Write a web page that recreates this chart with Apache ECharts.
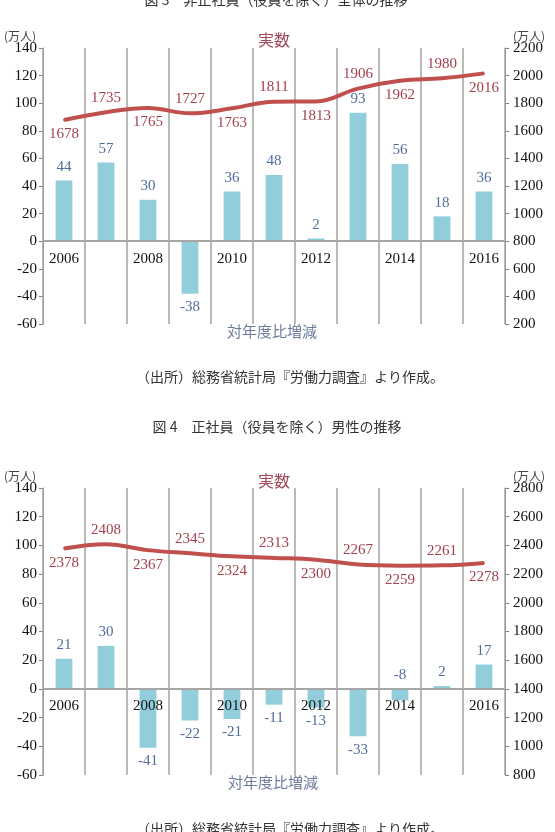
<!DOCTYPE html>
<html>
<head>
<meta charset="utf-8">
<script src="https://cdn.jsdelivr.net/npm/echarts@6/dist/echarts.min.js"></script>
<style>
html,body{margin:0;padding:0;background:#fff;}
#c{width:555px;height:832px;}
</style>
</head>
<body>
<div id="c"></div>
<script>
const years = ['2006','2007','2008','2009','2010','2011','2012','2013','2014','2015','2016'];
// 図3 非正社員
const fig3Change = [44, 57, 30, -38, 36, 48, 2, 93, 56, 18, 36];
const fig3Total = [1678, 1735, 1765, 1727, 1763, 1811, 1813, 1906, 1962, 1980, 2016];
// 図4 正社員 男性
const fig4Change = [21, 30, -41, -22, -21, -11, -13, -33, -8, 2, 17];
const fig4Total = [2378, 2408, 2367, 2345, 2324, 2313, 2300, 2267, 2259, 2261, 2278];
// axis ranges
const leftMin = -60, leftMax = 140, leftStep = 20;
const fig3RightMin = 200, fig3RightMax = 2200;
const fig4RightMin = 800, fig4RightMax = 2800;
const rightStep = 200;

const NUM_FONT = 'Liberation Serif';
const CJK_FONT = '"Noto Sans CJK JP"';
const BAR_COLOR = '#92CDDC';
const BAR_LABEL = '#4F6D9E';
const LINE_COLOR = '#C0504D';
const LINE_LABEL = '#A3404C';

const grids = [
  {left: 43, right: 50, top: 48, height: 276},
  {left: 43, right: 50, top: 488, height: 287}
];

const chart = echarts.init(document.getElementById('c'), null, {renderer: 'canvas'});

function xAxisFor(g) {
  // place the category axis on the zero line of the left value axis
  const zeroFromBottom = grids[g].height * (0 - leftMin) / (leftMax - leftMin);
  return {
    gridIndex: g, type: 'category', data: years, z: 3,
    position: 'bottom', offset: -zeroFromBottom,
    axisLine: {show: true, onZero: false, lineStyle: {color: '#A6A6A6', width: 2}},
    axisTick: {show: false},
    axisLabel: {interval: 1, margin: 10, fontFamily: NUM_FONT, fontSize: 15, color: '#111'},
    splitLine: {show: true, interval: 0, lineStyle: {color: '#A3A3A3', width: 1.5}}
  };
}
function leftAxis(g) {
  return {
    gridIndex: g, type: 'value', position: 'left', min: leftMin, max: leftMax, interval: leftStep,
    axisLine: {show: true, lineStyle: {color: '#808080', width: 1}},
    axisTick: {show: true, length: 4, lineStyle: {color: '#808080'}},
    axisLabel: {margin: 6, fontFamily: NUM_FONT, fontSize: 15, color: '#111', formatter: v => String(v)},
    splitLine: {show: false}
  };
}
function rightAxis(g, mn, mx) {
  return {
    gridIndex: g, type: 'value', position: 'right', min: mn, max: mx, interval: rightStep,
    axisLine: {show: true, lineStyle: {color: '#808080', width: 1}},
    axisTick: {show: true, length: 4, lineStyle: {color: '#808080'}},
    axisLabel: {margin: 8, fontFamily: NUM_FONT, fontSize: 15, color: '#111', formatter: v => String(v)},
    splitLine: {show: false}
  };
}
function barData(vals, aboveIdx) {
  return vals.map((v, i) => ({
    value: v,
    label: {position: (v >= 0 || aboveIdx.indexOf(i) >= 0) ? 'top' : 'bottom'}
  }));
}
function lineData(vals) {
  return vals.map((v, i) => ({value: v, label: {position: i % 2 ? 'top' : 'bottom'}}));
}
function barSeries(xi, yi, vals, aboveIdx) {
  return {
    type: 'bar', xAxisIndex: xi, yAxisIndex: yi, data: barData(vals, aboveIdx),
    barWidth: '40%', itemStyle: {color: BAR_COLOR},
    label: {show: true, distance: 6, fontFamily: NUM_FONT, fontSize: 15, color: BAR_LABEL}
  };
}
function lineSeries(xi, yi, vals) {
  return {
    type: 'line', xAxisIndex: xi, yAxisIndex: yi, data: lineData(vals), smooth: 0.4,
    symbol: 'circle', symbolSize: 2, showSymbol: true, z: 4,
    lineStyle: {color: LINE_COLOR, width: 4}, itemStyle: {color: LINE_COLOR},
    label: {show: true, distance: 6, fontFamily: NUM_FONT, fontSize: 15, color: LINE_LABEL}
  };
}
function txt(text, x, y, font, color, align) {
  return {type: 'text', x: x, y: y, silent: true,
    style: {text: text, font: font, fill: color, align: align || 'center', verticalAlign: 'middle'}};
}

const option = {
  animation: false,
  backgroundColor: '#fff',
  grid: grids,
  xAxis: [xAxisFor(0), xAxisFor(1)],
  yAxis: [leftAxis(0), rightAxis(0, fig3RightMin, fig3RightMax), leftAxis(1), rightAxis(1, fig4RightMin, fig4RightMax)],
  series: [
    barSeries(0, 0, fig3Change, []),
    lineSeries(0, 1, fig3Total),
    barSeries(1, 2, fig4Change, [8]),
    lineSeries(1, 3, fig4Total)
  ],
  graphic: [
    txt('図 3　非正社員（役員を除く）全体の推移', 276, 0, '14px ' + CJK_FONT, '#333'),
    txt('(万人)', 20, 36, '12px ' + CJK_FONT, '#444'),
    txt('(万人)', 529, 36, '12px ' + CJK_FONT, '#444'),
    txt('実数', 274, 40, '16px ' + CJK_FONT, '#A04A58'),
    txt('対年度比増減', 272, 331, '15px ' + CJK_FONT, '#6C7A9C'),
    txt('（出所）総務省統計局『労働力調査』より作成。', 290, 377, '14px ' + CJK_FONT, '#333'),
    txt('図 4　正社員（役員を除く）男性の推移', 277, 427, '14px ' + CJK_FONT, '#333'),
    txt('(万人)', 20, 476, '12px ' + CJK_FONT, '#444'),
    txt('(万人)', 529, 476, '12px ' + CJK_FONT, '#444'),
    txt('実数', 274, 481, '16px ' + CJK_FONT, '#A04A58'),
    txt('対年度比増減', 273, 782, '15px ' + CJK_FONT, '#6C7A9C'),
    txt('（出所）総務省統計局『労働力調査』より作成。', 290, 829, '14px ' + CJK_FONT, '#333')
  ]
};
chart.setOption(option);
</script>
</body>
</html>
